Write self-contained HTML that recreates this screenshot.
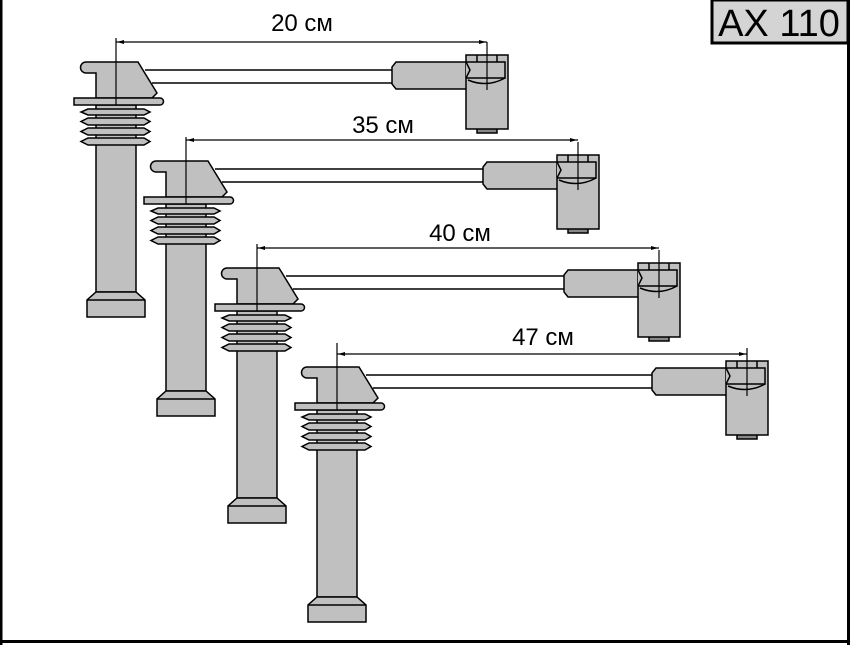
<!DOCTYPE html>
<html><head><style>
html,body{margin:0;padding:0;background:#fff;}
svg{display:block;}
text{font-family:"Liberation Sans","DejaVu Sans",sans-serif;}
</style></head><body>
<svg width="850" height="645" viewBox="0 0 850 645" xmlns="http://www.w3.org/2000/svg">
<defs>
<g id="L" stroke="#000" stroke-width="1.5" fill="#c0c0c0">
  <rect x="96" y="105" width="40" height="187"/>
  <path d="M96 292 L136 292 L145 300 L145 317 L87 317 L87 300 Z"/>
  <line x1="87" y1="300" x2="145" y2="300"/>
  <path d="M88 109 L144 109 L150 112 L144 115 L88 115 L81 112 Z"/>
  <path d="M88 118 L144 118 L150 121.5 L144 125 L88 125 L81 121.5 Z"/>
  <path d="M88 128 L144 128 L150 131.5 L144 135 L88 135 L81 131.5 Z"/>
  <path d="M88 138 L144 138 L150 141.5 L144 145 L88 145 L81 141.5 Z"/>
  <path d="M86 62 L138 62 L157 93 L152 98 L96 98 L96 73 L86 73 A5.5 5.5 0 0 1 86 62 Z"/>
  <path d="M74 98 L160 98 A3.5 3.5 0 0 1 160 105 L74 105 Z"/>
  <line x1="116" y1="38" x2="116" y2="105" stroke-width="1.2" fill="none"/>
</g>
<g id="R" stroke="#000" stroke-width="1.5" fill="#c0c0c0">
  <path d="M396 62 L468 62 L468 89 L396 89 L392 84 L392 67 Z"/>
  <rect x="477" y="128" width="20" height="5" fill="#888"/>
  <rect x="466" y="55" width="42" height="74"/>
  <path d="M466 62 L505 62 L505 78 L466 78" fill="#c0c0c0"/>
  <path d="M468 80 Q487 88 505 78" fill="none"/>
  <line x1="477" y1="55" x2="477" y2="62"/>
  <line x1="497" y1="55" x2="497" y2="62"/>
  <path d="M466 62 L470 70 L466 78" fill="none"/>
  <line x1="487" y1="42" x2="487" y2="90" stroke-width="1.2"/>
</g>
</defs>

<g stroke="#000" stroke-width="1.5">
  <line x1="145" y1="70" x2="393" y2="70"/><line x1="152" y1="83" x2="393" y2="83"/>
  <line x1="215" y1="169" x2="484" y2="169"/><line x1="222" y1="182" x2="484" y2="182"/>
  <line x1="286" y1="276" x2="565" y2="276"/><line x1="293" y1="289" x2="565" y2="289"/>
  <line x1="366" y1="375" x2="653" y2="375"/><line x1="373" y1="388" x2="653" y2="388"/>
</g>

<g>
  <use href="#L"/><use href="#R"/>
  <line x1="116" y1="42" x2="487" y2="42" stroke="#000" stroke-width="1.2"/>
  <path d="M117 42 L124 40 L124 44 Z M486 42 L479 40 L479 44 Z"/>
  <text x="302" y="31" font-size="24" text-anchor="middle">20 см</text>
</g>
<g>
  <use href="#L" transform="translate(70,99)"/><use href="#R" transform="translate(91,100)"/>
  <line x1="186" y1="140" x2="578" y2="140" stroke="#000" stroke-width="1.2"/>
  <path d="M187 140 L194 138 L194 142 Z M577 140 L570 138 L570 142 Z"/>
  <text x="383" y="133" font-size="24" text-anchor="middle">35 см</text>
</g>
<g>
  <use href="#L" transform="translate(141,206)"/><use href="#R" transform="translate(172,208)"/>
  <line x1="257" y1="248" x2="659" y2="248" stroke="#000" stroke-width="1.2"/>
  <path d="M258 248 L265 246 L265 250 Z M658 248 L651 246 L651 250 Z"/>
  <text x="460" y="241" font-size="24" text-anchor="middle">40 см</text>
</g>
<g>
  <use href="#L" transform="translate(221,305)"/><use href="#R" transform="translate(260,306)"/>
  <line x1="337" y1="354" x2="747" y2="354" stroke="#000" stroke-width="1.2"/>
  <path d="M338 354 L345 352 L345 356 Z M746 354 L739 352 L739 356 Z"/>
  <text x="543" y="345" font-size="24" text-anchor="middle">47 см</text>
</g>

<rect x="0" y="0" width="2.5" height="645" fill="#000"/>
<rect x="0" y="640" width="850" height="3" fill="#000"/>
<rect x="847" y="0" width="3" height="645" fill="#000"/>
<rect x="712" y="0" width="136" height="43" fill="#d4d4d4" stroke="#000" stroke-width="3"/>
<text x="779" y="36" font-size="38" text-anchor="middle">AX 110</text>
</svg>
</body></html>
